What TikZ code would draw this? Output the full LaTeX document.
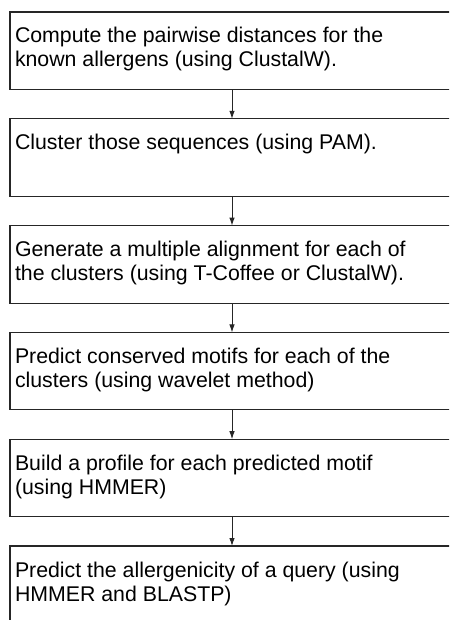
\documentclass[tikz,border=0pt]{standalone}
\usepackage{fontspec}
\setmainfont{Liberation Sans}
\usetikzlibrary{arrows.meta}

% Text of one step: top-aligned, left-aligned, fixed box height
\newcommand{\steptext}[1]{%
  \parbox[t][77.5pt][t]{460pt}{\raggedright\leftskip=5pt
    \lineskiplimit=-50pt\rule{0pt}{31pt}#1}}

\tikzset{
  stepbox/.style={draw=black!85, line width=1.1pt, anchor=north west,
    inner sep=0pt, outer sep=0pt,
    font=\fontsize{21.3pt}{24pt}\selectfont},
  flowarrow/.style={draw=black!85, line width=0.9pt,
    -{Latex[length=8pt,width=5.5pt]}}
}

\begin{document}
\begin{tikzpicture}[x=1pt,y=1pt]
  \useasboundingbox (0,0) rectangle (449,-620);
  \clip (0,0) rectangle (449,-620);
  \fill[white] (0,0) rectangle (449,-620);

  \node[stepbox] (s1) at (10,-12)
    {\steptext{Compute the pairwise distances for the\\known allergens (using ClustalW).}};
  \node[stepbox] (s2) at (10,-118.8)
    {\steptext{Cluster those sequences (using PAM).}};
  \node[stepbox] (s3) at (10,-225.6)
    {\steptext{Generate a multiple alignment for each of\\the clusters (using T-Coffee or ClustalW).}};
  \node[stepbox] (s4) at (10,-332.4)
    {\steptext{Predict conserved motifs for each of the\\clusters (using wavelet method)}};
  \node[stepbox] (s5) at (10,-439.2)
    {\steptext{Build a profile for each predicted motif\\(using HMMER)}};
  \node[stepbox] (s6) at (10,-546)
    {\steptext{Predict the allergenicity of a query (using\\HMMER and BLASTP)}};

  \foreach \a/\b in {s1/s2, s2/s3, s3/s4, s4/s5, s5/s6}
    \draw[flowarrow] ([xshift=222pt]\a.south west) -- ([xshift=222pt]\b.north west);
\end{tikzpicture}
\end{document}
